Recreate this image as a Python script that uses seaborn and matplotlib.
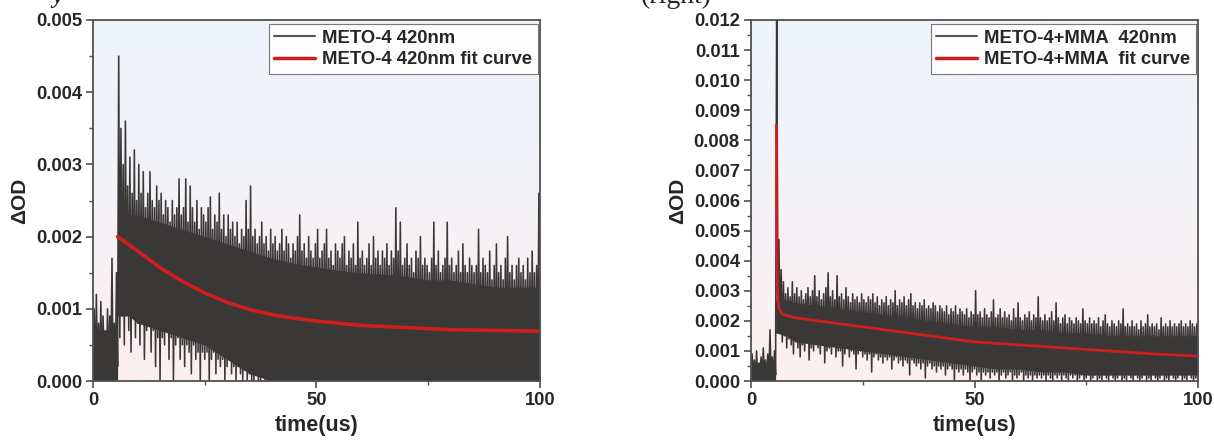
import numpy as np
import matplotlib
matplotlib.use("Agg")
import matplotlib.pyplot as plt
import seaborn as sns
from matplotlib.ticker import MultipleLocator, FormatStrFormatter
from matplotlib.colors import LinearSegmentedColormap
from matplotlib.lines import Line2D

# ---------------- data ----------------
# Noise traces: "lo" samples at t = 0, 0.5, ... 99.5 us ; "hi" samples at t = 0.25, 0.75, ... 99.75 us
left_lo = [
    0, 0, 0.0001, 0, 0, 0.0002, 0, 0, 0.0001, 0,
    0, 0.0002, 0.0006, 0.0009, 0.0005, 0.0010, 0.0007, 0.0004, 0.0009, 0.0006,
    0.0008, 0.0005, 0.0009, 0.0003, 0.0007, 0.0008, 0.0004, 0.0007, 0.0002, 0.0006,
    0.0000, 0.0006, 0.0005, 0.0007, 0.0003, 0.0006, 0.0000, 0.0005, 0.0006, 0.0003,
    0.0005, 0.0002, 0.0005, 0.0004, 0.0001, 0.0005, 0.0003, 0.0004, 0.0000, 0.0004,
    0.0003, 0.0004, 0.0000, 0.0003, 0.0004, 0.0001, 0.0003, 0.0002, 0.0003, 0.0000,
    0.0002, 0.0003, 0.0001, 0.0002, 0.0000, 0.0002, 0.0001, 0.0000, 0.0002, 0.0000,
    0.0001, 0.0000, 0.0000, 0.0001, 0.0000, 0.0000, 0.0001, 0.0000, 0.0000, 0.0000,
    0.0000, 0.0001, 0.0000, 0.0000, 0.0000, 0.0002, 0.0000, 0.0000, 0.0001, 0.0000,
    0.0000, 0.0000, 0.0001, 0.0000, 0.0000, 0.0000, 0.0000, 0.0002, 0.0000, 0.0000,
    0.0001, 0.0000, 0.0000, 0.0000, 0.0001, 0.0000, 0.0000, 0.0000, 0.0000, 0.0002,
    0.0000, 0.0000, 0.0001, 0.0000, 0.0000, 0.0000, 0.0001, 0.0000, 0.0000, 0.0000,
    0.0000, 0.0002, 0.0000, 0.0000, 0.0000, 0.0001, 0.0000, 0.0000, 0.0000, 0.0000,
    0.0001, 0.0000, 0.0000, 0.0000, 0.0002, 0.0000, 0.0000, 0.0001, 0.0000, 0.0000,
    0.0000, 0.0000, 0.0001, 0.0000, 0.0000, 0.0000, 0.0000, 0.0002, 0.0000, 0.0000,
    0.0000, 0.0001, 0.0000, 0.0000, 0.0000, 0.0000, 0.0001, 0.0000, 0.0000, 0.0000,
    0.0002, 0.0000, 0.0000, 0.0000, 0.0001, 0.0000, 0.0000, 0.0000, 0.0000, 0.0001,
    0.0000, 0.0000, 0.0000, 0.0002, 0.0000, 0.0000, 0.0001, 0.0000, 0.0000, 0.0000,
    0.0000, 0.0001, 0.0000, 0.0000, 0.0000, 0.0000, 0.0002, 0.0000, 0.0000, 0.0001,
    0.0000, 0.0000, 0.0000, 0.0001, 0.0000, 0.0000, 0.0000, 0.0002, 0.0000, 0.0000]
left_hi = [
    0.0010, 0.0012, 0.0008, 0.0011, 0.0009, 0.0007, 0.0010, 0.0009, 0.0017, 0.0008,
    0.0015, 0.0045, 0.0035, 0.0030, 0.0036, 0.0027, 0.0031, 0.0026, 0.0032, 0.0025,
    0.0030, 0.0026, 0.0029, 0.0024, 0.0026, 0.0029, 0.0025, 0.0024, 0.0027, 0.0025,
    0.0026, 0.0023, 0.0025, 0.0024, 0.0022, 0.0025, 0.0023, 0.0024, 0.0028, 0.0023,
    0.0024, 0.0028, 0.0022, 0.0027, 0.0024, 0.0022, 0.0025, 0.0021, 0.0024, 0.0023,
    0.0022, 0.0024, 0.00255, 0.0021, 0.0023, 0.0022, 0.0026, 0.0021, 0.0023, 0.0020,
    0.0023, 0.0021, 0.0022, 0.0020, 0.0022, 0.0019, 0.0021, 0.0020, 0.0025, 0.0021,
    0.0027, 0.0020, 0.0021, 0.0019, 0.0020, 0.0022, 0.0019, 0.0020, 0.0018, 0.0021,
    0.0019, 0.0020, 0.0018, 0.0019, 0.0021, 0.0018, 0.0020, 0.0019, 0.0017, 0.0019,
    0.0018, 0.0020, 0.0023, 0.0018, 0.0019, 0.0017, 0.0020, 0.0018, 0.0017, 0.0019,
    0.0021, 0.0017, 0.0018, 0.0019, 0.0021, 0.0017, 0.0018, 0.0016, 0.0019, 0.0018,
    0.0017, 0.0019, 0.0020, 0.0016, 0.0018, 0.0017, 0.0019, 0.0016, 0.0022, 0.0017,
    0.0018, 0.0016, 0.0017, 0.0019, 0.0016, 0.0020, 0.0017, 0.0018, 0.0016, 0.0018,
    0.0017, 0.0019, 0.0016, 0.0018, 0.0017, 0.0024, 0.0018, 0.0022, 0.0016, 0.0017,
    0.0019, 0.0016, 0.0017, 0.0015, 0.0018, 0.0017, 0.0020, 0.0016, 0.0017, 0.0016,
    0.0015, 0.0017, 0.0022, 0.0016, 0.0018, 0.0015, 0.0016, 0.0017, 0.0022, 0.0016,
    0.0017, 0.0015, 0.0016, 0.0018, 0.0015, 0.0019, 0.0016, 0.0015, 0.0017, 0.0016,
    0.0015, 0.0016, 0.0021, 0.0015, 0.0017, 0.0016, 0.0015, 0.0018, 0.0014, 0.0016,
    0.0019, 0.0015, 0.0016, 0.0014, 0.0017, 0.0020, 0.0015, 0.0016, 0.0014, 0.0016,
    0.0017, 0.0015, 0.0016, 0.0014, 0.0017, 0.0015, 0.0018, 0.0015, 0.0016, 0.0026]
left_core_t = [0, 5.5, 5.5, 8, 10, 15, 20, 25, 30, 35, 40, 45, 50, 55, 60, 65, 70, 75, 80, 85, 90, 95, 100]
left_core_hi = [0.0007, 0.0007, 0.0023, 0.0023, 0.0023, 0.0022, 0.0021, 0.0020, 0.0019, 0.0018,
                0.0017, 0.00163, 0.00158, 0.00153, 0.0015, 0.00148, 0.00145, 0.0014, 0.0014,
                0.00135, 0.0013, 0.0013, 0.0013]
left_core_lo = [0, 0, 0.0009, 0.0009, 0.0008, 0.0007, 0.0006, 0.0005, 0.0003, 0.0001,
                0, 0, 0, 0, 0, 0, 0, 0, 0, 0, 0, 0, 0]
left_fit_t = [5.5, 10, 15, 20, 25, 30, 35, 40, 45, 50, 60, 70, 80, 90, 100]
left_fit_y = [0.0020, 0.00180, 0.00157, 0.00138, 0.00122, 0.00109, 0.00099, 0.00092,
              0.00087, 0.00083, 0.00077, 0.00074, 0.00071, 0.00070, 0.00069]

right_lo = [
    0, 0.0001, 0, 0, 0.0002, 0, 0.0001, 0, 0, 0.0001,
    0, 0.0002, 0.0027, 0.0016, 0.0013, 0.0015, 0.0011, 0.0014, 0.0012, 0.0009,
    0.0013, 0.0011, 0.0008, 0.0012, 0.0010, 0.0013, 0.0007, 0.0011, 0.0010, 0.0012,
    0.0011, 0.0009, 0.0012, 0.0006, 0.0010, 0.0011, 0.0009, 0.0012, 0.0008, 0.0010,
    0.0010, 0.0005, 0.0009, 0.0011, 0.0008, 0.0010, 0.0009, 0.0004, 0.0009, 0.0010,
    0.0008, 0.0009, 0.0007, 0.0009, 0.0003, 0.0008, 0.0009, 0.0007, 0.0008, 0.0006,
    0.0008, 0.0007, 0.0008, 0.0004, 0.0007, 0.0008, 0.0006, 0.0007, 0.0005, 0.0007,
    0.0006, 0.0002, 0.0007, 0.0006, 0.0005, 0.0006, 0.0004, 0.0006, 0.0001, 0.0005,
    0.0006, 0.0004, 0.0005, 0.0003, 0.0005, 0.0004, 0.0005, 0.0002, 0.0004, 0.0005,
    0.0004, 0.0000, 0.0004, 0.0003, 0.0004, 0.0002, 0.0004, 0.0003, 0.0000, 0.0003,
    0.0004, 0.0002, 0.0003, 0.0000, 0.0003, 0.0002, 0.0003, 0.0001, 0.0003, 0.0002,
    0.0003, 0.0000, 0.0002, 0.0003, 0.0001, 0.0002, 0.0003, 0.0000, 0.0002, 0.0001,
    0.0002, 0.0003, 0.0000, 0.0002, 0.0001, 0.0002, 0.0000, 0.0002, 0.0001, 0.0002,
    0.0001, 0.0002, 0.0000, 0.0002, 0.0001, 0.0000, 0.0002, 0.0001, 0.0002, 0.0000,
    0.0002, 0.0001, 0.0000, 0.0002, 0.0001, 0.0002, 0.0000, 0.0001, 0.0002, 0.0000,
    0.0001, 0.0002, 0.0000, 0.0001, 0.0002, 0.0000, 0.0001, 0.0000, 0.0002, 0.0001,
    0.0000, 0.0002, 0.0001, 0.0000, 0.0001, 0.0002, 0.0000, 0.0001, 0.0000, 0.0002,
    0.0001, 0.0000, 0.0002, 0.0001, 0.0000, 0.0001, 0.0002, 0.0000, 0.0001, 0.0000,
    0.0002, 0.0001, 0.0000, 0.0001, 0.0002, 0.0000, 0.0001, 0.0000, 0.0002, 0.0001,
    0.0000, 0.0001, 0.0002, 0.0000, 0.0001, 0.0000, 0.0002, 0.0001, 0.0000, 0.0001]
right_hi = [
    0.0009, 0.0007, 0.0010, 0.0006, 0.0008, 0.0011, 0.0007, 0.0009, 0.0017, 0.0008,
    0.0010, 0.0130, 0.0047, 0.0037, 0.0033, 0.0029, 0.0031, 0.0028, 0.0033, 0.0029,
    0.0031, 0.0028, 0.0030, 0.0027, 0.0029, 0.0031, 0.0028, 0.0030, 0.0035, 0.0028,
    0.0030, 0.0027, 0.0029, 0.0031, 0.0036, 0.0028, 0.0030, 0.0027, 0.0035, 0.0028,
    0.0029, 0.0027, 0.0031, 0.0028, 0.0026, 0.0029, 0.0027, 0.0028, 0.0026, 0.0029,
    0.0027, 0.0026, 0.0028, 0.0027, 0.0029, 0.0026, 0.0028, 0.0025, 0.0027, 0.0026,
    0.0028, 0.0025, 0.0027, 0.0026, 0.0030, 0.0025, 0.0027, 0.0026, 0.0028, 0.0025,
    0.0027, 0.0029, 0.0025, 0.0026, 0.0024, 0.0026, 0.0025, 0.0027, 0.0024, 0.0025,
    0.0024, 0.0026, 0.0025, 0.0023, 0.0025, 0.0024, 0.0023, 0.0025, 0.0022, 0.0024,
    0.0023, 0.0025, 0.0022, 0.0024, 0.0023, 0.0022, 0.0024, 0.0021, 0.0023, 0.0022,
    0.0030, 0.0022, 0.0023, 0.0021, 0.0024, 0.0022, 0.0021, 0.0023, 0.0027, 0.0021,
    0.0022, 0.0024, 0.0021, 0.0023, 0.0021, 0.0022, 0.0020, 0.0024, 0.0021, 0.0026,
    0.0021, 0.0020, 0.0022, 0.0021, 0.0023, 0.0020, 0.0022, 0.0021, 0.0028, 0.0021,
    0.0020, 0.0022, 0.0020, 0.0021, 0.0023, 0.0020, 0.0026, 0.0021, 0.0019, 0.0021,
    0.0022, 0.0019, 0.0021, 0.0020, 0.0019, 0.0021, 0.0020, 0.0019, 0.0024, 0.0020,
    0.0019, 0.0021, 0.0019, 0.0020, 0.0019, 0.0021, 0.0018, 0.0020, 0.0022, 0.0019,
    0.0018, 0.0020, 0.0019, 0.0018, 0.0020, 0.0019, 0.0024, 0.0018, 0.0019, 0.0018,
    0.0020, 0.0018, 0.0019, 0.0017, 0.0020, 0.0018, 0.0019, 0.0022, 0.0018, 0.0019,
    0.0018, 0.0019, 0.0017, 0.0021, 0.0018, 0.0019, 0.0018, 0.0020, 0.0018, 0.0019,
    0.0018, 0.0019, 0.0020, 0.0018, 0.0019, 0.0018, 0.0020, 0.0019, 0.0018, 0.0019]
right_core_t = [0, 5.5, 5.5, 8, 10, 15, 20, 25, 30, 35, 40, 45, 50, 55, 60, 65, 70, 75, 80, 85, 90, 95, 100]
right_core_hi = [0.0006, 0.0006, 0.0027, 0.0027, 0.0026, 0.0025, 0.0024, 0.0023, 0.0022, 0.0021,
                 0.0020, 0.0019, 0.0018, 0.0018, 0.0017, 0.0017, 0.0016, 0.0016, 0.0015,
                 0.0015, 0.0015, 0.0015, 0.0015]
right_core_lo = [0, 0, 0.0016, 0.0015, 0.0013, 0.0012, 0.0011, 0.0010, 0.0009, 0.0008,
                 0.0007, 0.0006, 0.0005, 0.0004, 0.0004, 0.0003, 0.0003, 0.0002, 0.0002,
                 0.0002, 0.0002, 0.0002, 0.0002]
right_fit_t = [5.7, 5.8, 5.9, 6.0, 6.3, 7, 10, 15, 20, 30, 40, 50, 60, 70, 80, 90, 100]
right_fit_y = [0.0085, 0.0045, 0.0032, 0.0027, 0.0024, 0.00222, 0.0021, 0.0020, 0.0019,
               0.0017, 0.0015, 0.0013, 0.0012, 0.0011, 0.0010, 0.0009, 0.00083]

left_labels = ["METO-4 420nm", "METO-4 420nm fit curve"]
right_labels = ["METO-4+MMA  420nm", "METO-4+MMA  fit curve"]

# ---------------- style ----------------
sns.set_style("ticks")
plt.rcParams["font.family"] = ["Liberation Sans", "DejaVu Sans"]
plt.rcParams["font.weight"] = "bold"
plt.rcParams["axes.labelweight"] = "bold"

TRACE = "#3a3737"
RED = "#d01d1d"
SPINE = "#505050"

bg_cmap = LinearSegmentedColormap.from_list("bg", ["#fcefef", "#f7f1f4", "#f1f4f9", "#eef4fa"])

fig = plt.figure(figsize=(12.14, 4.46), dpi=100)
ax1 = fig.add_axes([93 / 1214, 65 / 446, 447 / 1214, 361 / 446])
ax2 = fig.add_axes([751 / 1214, 65 / 446, 447 / 1214, 361 / 446])


def interleave(lo, hi):
    k = np.arange(len(lo), dtype=float) * 0.5
    t = np.ravel(np.column_stack([k, k + 0.25]))
    v = np.ravel(np.column_stack([lo, hi]))
    t = np.append(t, 100.0)
    v = np.append(v, lo[-1])
    return t, v


def panel(ax, lo, hi, core_t, core_hi, core_lo, fit_t, fit_y, ymax, labels, red_lw):
    grad = np.linspace(0, 1, 256).reshape(-1, 1)
    ax.imshow(grad, cmap=bg_cmap, extent=[0, 1, 0, 1], transform=ax.transAxes,
              aspect="auto", origin="lower", zorder=0, interpolation="bicubic")
    ax.fill_between(core_t, core_lo, core_hi, color=TRACE, lw=0, zorder=2)
    t, v = interleave(lo, hi)
    sns.lineplot(x=t, y=v, ax=ax, color=TRACE, linewidth=1.15, estimator=None,
                 legend=False, zorder=3)
    sns.lineplot(x=fit_t, y=fit_y, ax=ax, color=RED, linewidth=red_lw, estimator=None,
                 legend=False, zorder=4)
    ax.set_xlim(0, 100)
    ax.set_ylim(0, ymax)
    ax.xaxis.set_major_locator(MultipleLocator(50))
    ax.xaxis.set_minor_locator(MultipleLocator(25))
    ax.yaxis.set_major_locator(MultipleLocator(0.001))
    ax.yaxis.set_minor_locator(MultipleLocator(0.0005))
    ax.yaxis.set_major_formatter(FormatStrFormatter("%.3f"))
    ax.tick_params(axis="both", which="major", direction="out", length=5, width=1.2,
                   color=SPINE, labelsize=13.2, pad=3)
    ax.tick_params(axis="both", which="minor", direction="out", length=3, width=1.0,
                   color=SPINE)
    for s in ax.spines.values():
        s.set_visible(True)
        s.set_color(SPINE)
        s.set_linewidth(1.3)
        s.set_zorder(6)
    ax.set_xlabel("time(us)", fontsize=15.5, fontweight="bold", labelpad=4)
    ax.set_ylabel("ΔOD", fontsize=15, fontweight="bold", labelpad=5)
    handles = [Line2D([], [], color="#555555", lw=1.5), Line2D([], [], color=RED, lw=2.5)]
    leg = ax.legend(handles, labels, loc="upper right", bbox_to_anchor=(0.995, 0.988),
                    prop={"weight": "bold", "size": 13.3}, frameon=True, fancybox=False,
                    edgecolor="#6a6a6a", facecolor="white", framealpha=0.9,
                    borderpad=0.3, handlelength=2.2, handletextpad=0.4,
                    labelspacing=0.25, borderaxespad=0.0)
    leg.get_frame().set_linewidth(0.8)
    leg.set_zorder(10)


panel(ax1, left_lo, left_hi, left_core_t, left_core_hi, left_core_lo,
      left_fit_t, left_fit_y, 0.005, left_labels, 2.6)
panel(ax2, right_lo, right_hi, right_core_t, right_core_hi, right_core_lo,
      right_fit_t, right_fit_y, 0.012, right_labels, 2.0)

# cropped caption fragments at the top edge
fig.text(52 / 1214, 1 - 3 / 446, "y", fontsize=17, fontweight="bold",
         family=["Liberation Serif", "DejaVu Serif"], style="italic", va="baseline")
fig.text(641 / 1214, 1 - 3 / 446, "(right)", fontsize=20, fontweight="normal",
         family=["Liberation Serif", "DejaVu Serif"], va="baseline")

fig.savefig("out.png", dpi=100)
